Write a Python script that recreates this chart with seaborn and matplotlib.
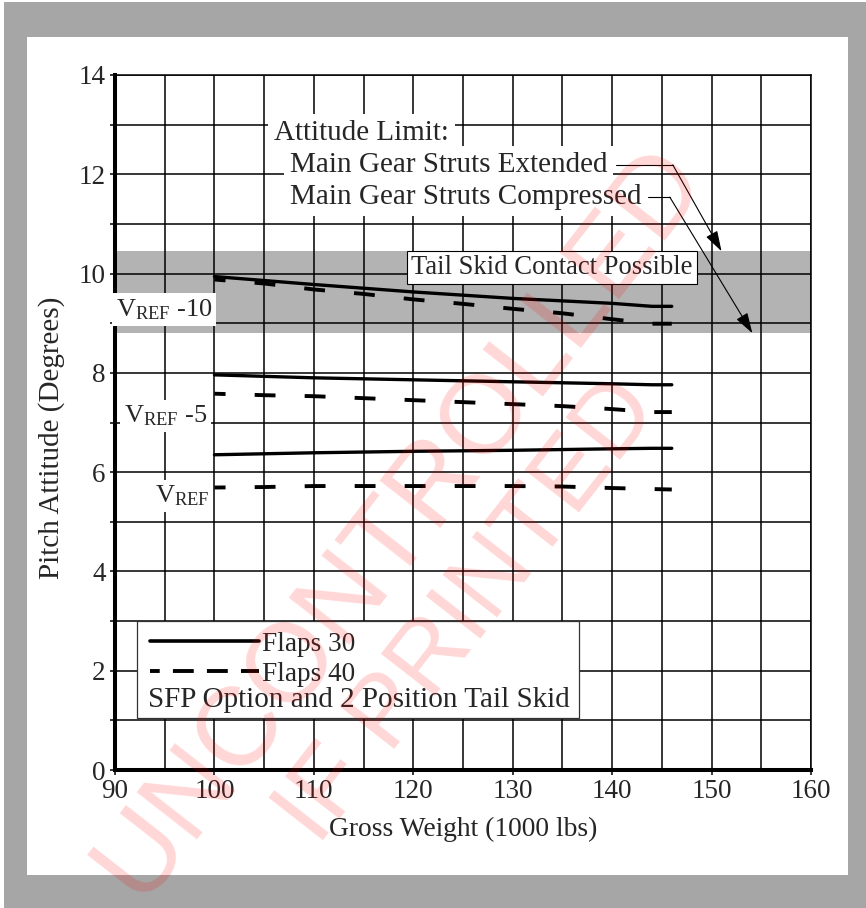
import matplotlib
matplotlib.use("Agg")
import matplotlib.pyplot as plt
from matplotlib.patches import Rectangle
from matplotlib.lines import Line2D
import seaborn as sns
import pandas as pd

# ---------------- data ----------------
F30_W = [100, 110, 120, 130, 140, 144, 146]
F30_VREF10 = [9.94, 9.78, 9.63, 9.50, 9.40, 9.34, 9.34]
F30_VREF5 = [7.96, 7.90, 7.86, 7.82, 7.78, 7.76, 7.76]
F30_VREF = [6.35, 6.39, 6.42, 6.44, 6.47, 6.48, 6.48]

F40_W = [100, 105, 110, 115, 120, 125, 130, 135, 140, 144, 146]
F40_VREF10 = [9.88, 9.80, 9.68, 9.59, 9.48, 9.39, 9.29, 9.20, 9.08, 8.99, 8.99]
F40_VREF5 = [7.58, 7.55, 7.53, 7.49, 7.45, 7.41, 7.37, 7.33, 7.27, 7.21, 7.21]
F40_VREF = [5.69, 5.70, 5.72, 5.72, 5.72, 5.72, 5.72, 5.71, 5.68, 5.66, 5.65]

SERIES_LABELS = ["Flaps 30", "Flaps 40"]
SPEED_LABELS = ["V$_{\\mathrm{REF}}$ -10", "V$_{\\mathrm{REF}}$ -5", "V$_{\\mathrm{REF}}$"]
SPEED_LABEL_POS = [(94.93, 9.28), (95.08, 7.13), (96.74, 5.52)]

TAIL_BAND = (8.80, 10.45)
TAIL_TEXT = "Tail Skid Contact Possible"
TAIL_TEXT_POS = (133.95, 10.13)

LIMIT_TITLE = "Attitude Limit:"
LIMIT_TITLE_POS = (106.0, 12.84)
LIMIT_LABELS = ["Main Gear Struts Extended", "Main Gear Struts Compressed"]
LIMIT_LABEL_POS = [(107.6, 12.19), (107.6, 11.54)]
# leader: text end -> corner -> arrow tip
LEADER_EXT = [(140.4, 12.19), (146.1, 12.19), (151.0, 10.45)]
LEADER_CMP = [(143.6, 11.54), (145.8, 11.54), (154.1, 8.80)]

LEGEND_NOTE = "SFP Option and 2 Position Tail Skid"
X_TICKS = list(range(90, 161, 10))
Y_TICKS = list(range(0, 15, 2))
X_LABEL = "Gross Weight (1000 lbs)"
Y_LABEL = "Pitch Attitude (Degrees)"
WATERMARK = ["UNCONTROLLED", "IF PRINTED"]

# ---------------- frame ----------------
rows = []
for flaps, w, series in [("Flaps 30", F30_W, [F30_VREF10, F30_VREF5, F30_VREF]),
                         ("Flaps 40", F40_W, [F40_VREF10, F40_VREF5, F40_VREF])]:
    for k, ys in enumerate(series):
        for x, y in zip(w, ys):
            rows.append({"weight": x, "pitch": y, "flaps": flaps, "speed": k})
df = pd.DataFrame(rows)

sns.set_theme(style="white")
plt.rcParams["font.family"] = ["Liberation Serif", "DejaVu Serif"]
plt.rcParams["mathtext.fontset"] = "custom"
plt.rcParams["mathtext.rm"] = "Liberation Serif"
plt.rcParams["mathtext.it"] = "Liberation Serif:italic"
plt.rcParams["mathtext.bf"] = "Liberation Serif:bold"
plt.rcParams["lines.scale_dashes"] = False

fig = plt.figure(figsize=(8.66, 9.08), dpi=100)
fig.patch.set_facecolor("white")
fig.add_artist(Rectangle((4 / 866, 0), 1, 1 - 2 / 908, transform=fig.transFigure,
                         facecolor="#a6a6a6", edgecolor="none", zorder=-10))
fig.add_artist(Rectangle((27 / 866, 1 - 875 / 908), 821 / 866, 838 / 908,
                         transform=fig.transFigure, facecolor="white",
                         edgecolor="none", zorder=-9))

ax = fig.add_axes([115 / 866, 1 - 770 / 908, 696 / 866, 695 / 908])
ax.set_facecolor("none")

sns.lineplot(data=df, x="weight", y="pitch", style="flaps", units="speed",
             estimator=None, sort=False, color="black", linewidth=2.4,
             dashes={"Flaps 30": "", "Flaps 40": (15, 21)}, legend=False, ax=ax)
for ln in ax.lines:
    ls = ln.get_linestyle()
    if ls not in ("-", "solid"):
        ln.set_linestyle((7, (15, 21)))
        ln.set_linewidth(2.8)
    ln.set_zorder(2.2)

ax.axhspan(TAIL_BAND[0], TAIL_BAND[1], facecolor="#b3b3b3", edgecolor="none", zorder=0.3)

ax.set_xlim(90, 160)
ax.set_ylim(0, 14)
ax.set_xticks(X_TICKS)
ax.set_xticks([v + 5 for v in X_TICKS[:-1]], minor=True)
ax.set_yticks(Y_TICKS)
ax.set_yticks([v + 1 for v in Y_TICKS[:-1]], minor=True)
ax.grid(True, which="both", color="black", linewidth=1.1)
ax.set_axisbelow("line")
ax.tick_params(axis="both", which="major", direction="out", length=3.6, width=1.1,
               color="black", labelsize=19.5, pad=3, left=True, bottom=True)
ax.tick_params(axis="y", which="minor", direction="out", length=3.6, width=1.1,
               color="black", left=True)
ax.tick_params(axis="x", which="minor", length=0)
for side in ["left", "bottom"]:
    ax.spines[side].set_linewidth(2.9)
    ax.spines[side].set_color("black")
for side in ["top", "right"]:
    ax.spines[side].set_linewidth(1.1)
    ax.spines[side].set_color("black")

ax.set_xlabel(X_LABEL, fontsize=19.8, va="center")
ax.set_ylabel(Y_LABEL, fontsize=21, va="center")
ax.xaxis.set_label_coords(0.5, -0.085)
ax.yaxis.set_label_coords(-0.091, 0.478)

# speed labels
for txt, (x, y) in zip(SPEED_LABELS, SPEED_LABEL_POS):
    ax.text(x, y, txt, fontsize=19, ha="center", va="center", zorder=3,
            bbox=dict(boxstyle="square,pad=0.15", fc="white", ec="none"))

ax.text(*TAIL_TEXT_POS, TAIL_TEXT, fontsize=19.2, ha="center", va="center", zorder=3,
        bbox=dict(boxstyle="square,pad=0.15", fc="white", ec="black", lw=0.8))

ax.text(*LIMIT_TITLE_POS, LIMIT_TITLE, fontsize=21, ha="left", va="center", zorder=3,
        bbox=dict(boxstyle="square,pad=0.2", fc="white", ec="none"))
for txt, (x, y) in zip(LIMIT_LABELS, LIMIT_LABEL_POS):
    ax.text(x, y, txt, fontsize=21, ha="left", va="center", zorder=3,
            bbox=dict(boxstyle="square,pad=0.2", fc="white", ec="none"))

for leader in [LEADER_EXT, LEADER_CMP]:
    (x0, y0), (x1, y1), (x2, y2) = leader
    ax.add_line(Line2D([x0, x1], [y0, y1], color="black", lw=0.8, zorder=3.5))
    ax.annotate("", xy=(x2, y2), xytext=(x1, y1), zorder=3.5,
                arrowprops=dict(arrowstyle="-|>,head_length=0.7,head_width=0.22",
                                mutation_scale=18, color="black", lw=0.8,
                                shrinkA=0, shrinkB=0))

# legend box
box = Rectangle((92.2, 1.04), 136.7 - 92.2, 3.0 - 1.04, facecolor="white",
                edgecolor="#333333", lw=0.9, zorder=2.6)
ax.add_patch(box)
handles = [Line2D([], [], color="black", lw=2.6, ls="-"),
           Line2D([], [], color="black", lw=2.8, ls=(8, (15, 9.5)))]
leg = ax.legend(handles, SERIES_LABELS, loc="upper left", bbox_to_anchor=(0.0503, 0.199),
                frameon=False, fontsize=19.6, handlelength=4.0, handletextpad=0.1,
                labelspacing=0.19, borderpad=0, borderaxespad=0)
leg.set_zorder(4)
ax.text(93.3, 1.42, LEGEND_NOTE, fontsize=21.0, ha="left", va="center", zorder=4)

# watermark
for txt, (px, py), fs in zip(WATERMARK, [(400, 522), (468, 612)], [80, 72]):
    fig.text(px / 866, 1 - py / 908, txt, fontsize=fs, rotation=52, ha="center",
             va="center", rotation_mode="anchor", color="red", alpha=0.16,
             family=["Liberation Sans", "DejaVu Sans"], zorder=20)

fig.savefig("out.png", dpi=100)
